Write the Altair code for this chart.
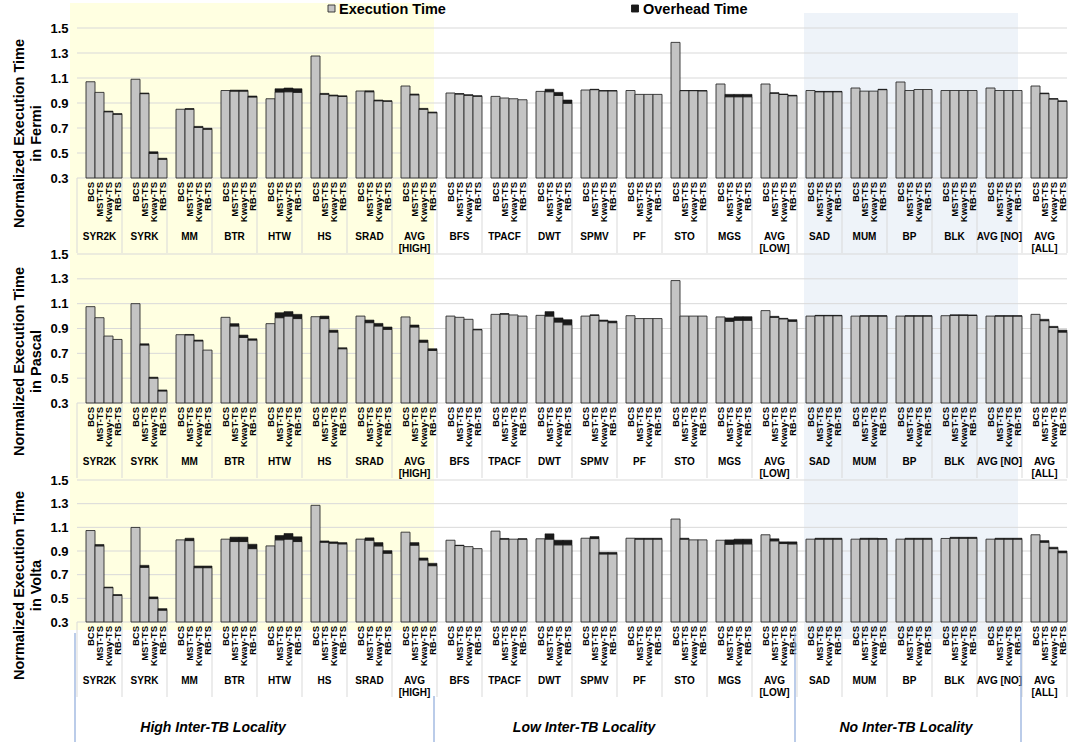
import altair as alt
import pandas as pd

# ---------------------------------------------------------------- data
GROUPS = ["SYR2K", "SYRK", "MM", "BTR", "HTW", "HS", "SRAD", "AVG\n[HIGH]",
          "BFS", "TPACF", "DWT", "SPMV", "PF", "STO", "MGS", "AVG\n[LOW]",
          "SAD", "MUM", "BP", "BLK", "AVG [NO]", "AVG\n[ALL]"]
SCHEMES = ["BCS", "MST-TS", "Kway-TS", "RB-TS"]
TICKS = [0.3, 0.5, 0.7, 0.9, 1.1, 1.3, 1.5]

# execution time (grey part) and overhead time (black part), 4 schemes per group
FERMI_EXEC = [
    1.07, 0.985, 0.83, 0.81,    # SYR2K
    1.09, 0.975, 0.497, 0.45,   # SYRK
    0.85, 0.85, 0.705, 0.69,    # MM
    1.00, 0.995, 0.995, 0.948,  # BTR
    0.934, 0.988, 0.99, 0.985,  # HTW
    1.276, 0.97, 0.958, 0.952,  # HS
    0.996, 0.99, 0.918, 0.914,  # SRAD
    1.036, 0.965, 0.85, 0.822,  # AVG [HIGH]
    0.98, 0.972, 0.962, 0.954,  # BFS
    0.953, 0.94, 0.934, 0.926,  # TPACF
    0.993, 0.99, 0.96, 0.898,   # DWT
    1.004, 1.007, 0.997, 0.997, # SPMV
    1.00, 0.969, 0.969, 0.969,  # PF
    1.385, 0.999, 0.999, 0.997, # STO
    1.052, 0.95, 0.95, 0.95,    # MGS
    1.052, 0.978, 0.968, 0.958, # AVG [LOW]
    1.00, 0.99, 0.99, 0.99,     # SAD
    1.02, 0.995, 0.995, 1.007,  # MUM
    1.068, 1.00, 1.008, 1.008,  # BP
    1.00, 1.00, 1.00, 1.00,     # BLK
    1.02, 1.00, 1.00, 1.00,     # AVG [NO]
    1.036, 0.975, 0.932, 0.914, # AVG [ALL]
]
FERMI_OVH = [
    0, 0, 0.005, 0.005,
    0, 0.005, 0.013, 0.008,
    0, 0.006, 0.008, 0.008,
    0, 0.008, 0.008, 0.008,
    0, 0.026, 0.03, 0.029,
    0, 0.007, 0.006, 0.006,
    0, 0.008, 0.006, 0.004,
    0, 0.007, 0.007, 0.006,
    0, 0.003, 0.004, 0.004,
    0, 0, 0, 0,
    0, 0.02, 0.025, 0.026,
    0, 0.003, 0.003, 0.003,
    0, 0, 0, 0,
    0, 0.001, 0.001, 0.003,
    0, 0.019, 0.019, 0.019,
    0, 0.004, 0.004, 0.004,
    0, 0.003, 0.003, 0.003,
    0, 0, 0, 0.003,
    0, 0, 0, 0,
    0, 0, 0, 0,
    0, 0, 0, 0,
    0, 0.005, 0.003, 0.003,
]

PASCAL_EXEC = [
    1.076, 0.987, 0.839, 0.812,
    1.10, 0.767, 0.50, 0.397,
    0.85, 0.848, 0.80, 0.726,
    0.99, 0.92, 0.828, 0.807,
    0.939, 0.987, 1.00, 0.98,
    0.995, 0.98, 0.871, 0.737,
    1.00, 0.947, 0.92, 0.893,
    0.993, 0.912, 0.79, 0.723,
    1.00, 0.99, 0.974, 0.89,
    1.014, 1.016, 1.009, 1.00,
    1.006, 1.00, 0.952, 0.93,
    1.00, 1.006, 0.96, 0.947,
    1.003, 0.98, 0.98, 0.98,
    1.286, 1.00, 1.00, 1.00,
    0.993, 0.958, 0.966, 0.966,
    1.044, 0.99, 0.978, 0.958,
    1.00, 1.003, 1.003, 1.003,
    1.00, 1.00, 1.00, 1.00,
    1.00, 1.00, 1.00, 1.00,
    1.003, 1.006, 1.006, 1.005,
    1.00, 1.00, 1.00, 1.00,
    1.014, 0.963, 0.909, 0.871,
]
PASCAL_OVH = [
    0, 0, 0, 0,
    0, 0.01, 0.008, 0.008,
    0, 0.004, 0.007, 0,
    0, 0.019, 0.019, 0.01,
    0, 0.04, 0.036, 0.034,
    0, 0.02, 0.016, 0.008,
    0, 0.021, 0.021, 0.019,
    0, 0.016, 0.017, 0.014,
    0, 0, 0, 0.003,
    0, 0.004, 0, 0,
    0, 0.036, 0.033, 0.041,
    0, 0.004, 0.008, 0.013,
    0, 0, 0, 0,
    0, 0, 0, 0,
    0, 0.027, 0.029, 0.029,
    0, 0.008, 0.004, 0.013,
    0, 0.003, 0.003, 0.003,
    0, 0.003, 0.003, 0.003,
    0, 0.003, 0.003, 0.003,
    0, 0.004, 0.004, 0.004,
    0, 0.003, 0.003, 0.003,
    0, 0.011, 0.008, 0.016,
]

VOLTA_EXEC = [
    1.073, 0.943, 0.59, 0.525,
    1.099, 0.762, 0.498, 0.40,
    0.994, 0.988, 0.759, 0.759,
    1.00, 0.98, 0.98, 0.92,
    0.943, 0.994, 1.00, 0.98,
    1.286, 0.974, 0.966, 0.96,
    1.00, 0.991, 0.943, 0.881,
    1.059, 0.949, 0.824, 0.776,
    0.991, 0.946, 0.937, 0.92,
    1.068, 1.00, 1.00, 1.00,
    1.003, 1.00, 0.952, 0.952,
    1.008, 1.005, 0.875, 0.875,
    1.008, 1.00, 1.00, 1.00,
    1.17, 1.00, 0.994, 0.994,
    0.991, 0.957, 0.96, 0.96,
    1.037, 0.986, 0.963, 0.96,
    1.00, 1.00, 1.00, 1.00,
    1.00, 1.00, 1.00, 1.00,
    1.00, 1.00, 1.00, 1.00,
    1.006, 1.008, 1.008, 1.008,
    1.00, 1.00, 1.00, 1.00,
    1.037, 0.974, 0.92, 0.886,
]
VOLTA_OVH = [
    0, 0.012, 0.005, 0.007,
    0, 0.017, 0.014, 0.013,
    0, 0.02, 0.014, 0.014,
    0, 0.037, 0.037, 0.037,
    0, 0.037, 0.048, 0.04,
    0, 0.011, 0.011, 0.011,
    0, 0.02, 0.028, 0.022,
    0, 0.022, 0.017, 0.02,
    0, 0.003, 0, 0,
    0, 0.006, 0, 0.004,
    0, 0.045, 0.039, 0.039,
    0, 0.017, 0.014, 0.014,
    0, 0.008, 0.008, 0.008,
    0, 0.008, 0, 0,
    0, 0.037, 0.04, 0.04,
    0, 0.017, 0.014, 0.017,
    0, 0.008, 0.008, 0.008,
    0, 0.008, 0.008, 0.006,
    0, 0.008, 0.008, 0.008,
    0, 0.008, 0.008, 0.008,
    0, 0.008, 0.008, 0.008,
    0, 0.014, 0.012, 0.014,
]

SECTIONS = ["High Inter-TB Locality", "Low Inter-TB Locality", "No Inter-TB Locality"]

# ---------------------------------------------------------------- layout
FONT = "Liberation Sans"
PLOT_W = 990
LEFT = 77
SLOTS = len(GROUPS) * 5          # gap + 4 bars per group
GRID = "#D9D9D9"
BAR_FILL = "#C4C4C4"
BAR_EDGE = "#2E2E2E"
OVH_FILL = "#1A1A1A"

# (name, exec, overhead, plot top, plot bottom, title centre)
PANELS = [
    ("Fermi", FERMI_EXEC, FERMI_OVH, 28, 178, 133),
    ("Pascal", PASCAL_EXEC, PASCAL_OVH, 254, 403, 361),
    ("Volta", VOLTA_EXEC, VOLTA_OVH, 480, 622, 585),
]

X_SCALE = alt.Scale(domain=[0, SLOTS], nice=False, zero=False)
ONE = pd.DataFrame({"k": [0]})


def bar_frame(exec_vals, ovh_vals):
    rows = []
    for g, grp in enumerate(GROUPS):
        for b, scheme in enumerate(SCHEMES):
            i = g * 4 + b
            x0 = g * 5 + 1 + b
            rows.append(dict(group=grp, scheme=scheme, x0=x0, x1=x0 + 1,
                             xc=x0 + 0.5, base=0.3, exec=exec_vals[i],
                             ovh=ovh_vals[i], total=exec_vals[i] + ovh_vals[i]))
    return pd.DataFrame(rows)


group_df = pd.DataFrame({"g": GROUPS, "xc": [i * 5 + 2.5 for i in range(len(GROUPS))]})
sep_df = pd.DataFrame({"s": list(range(0, SLOTS + 1, 5))})
tick_df = pd.DataFrame({"v": TICKS})

back_layers = [
    # shaded locality regions
    alt.Chart(ONE).mark_rect(color="#FFFFE1").encode(
        x=alt.value(-7), x2=alt.value(357), y=alt.value(3), y2=alt.value(630)),
    alt.Chart(ONE).mark_rect(color="#EEF3F9").encode(
        x=alt.value(727), x2=alt.value(941), y=alt.value(13), y2=alt.value(639)),
]

grid_layers, sep_layers, bar_layers, label_layers = [], [], [], []
for name, ev, ov, top, bottom, title_y in PANELS:
    ysc = alt.Scale(domain=[0.3, 1.5], range=[bottom, top], nice=False, zero=False)
    df = bar_frame(ev, ov)

    grid_layers.append(
        alt.Chart(tick_df).mark_rule(color=GRID, strokeWidth=1).encode(
            x=alt.value(0), x2=alt.value(PLOT_W),
            y=alt.Y("v:Q", scale=ysc, axis=alt.Axis(
                orient="left", values=TICKS, format=".1f", grid=False,
                domain=False, ticks=False, tickSize=0,
                labelFont=FONT, labelFontSize=13, labelFontWeight="bold",
                labelColor="#000000", labelPadding=9,
                title=["Normalized Execution Time", f"in {name}"],
                titleFont=FONT, titleFontSize=14.5, titleFontWeight="bold",
                titleColor="#000000", titleAngle=270, titleX=-54, titleY=title_y,
                titleAlign="center", titleBaseline="alphabetic",
                titleLineHeight=17)))
    )
    sep_layers.append(
        alt.Chart(sep_df).mark_rule(color=GRID, strokeWidth=1).encode(
            x=alt.X("s:Q", scale=X_SCALE, axis=None),
            y=alt.value(bottom), y2=alt.value(bottom + 75))
    )
    bar_layers.append(
        alt.Chart(df).mark_bar(fill=BAR_FILL, stroke=BAR_EDGE, strokeWidth=0.9).encode(
            x=alt.X("x0:Q", scale=X_SCALE, axis=None), x2="x1:Q",
            y=alt.Y("exec:Q", scale=ysc, axis=None), y2="base:Q")
    )
    bar_layers.append(
        alt.Chart(df[df["ovh"] > 0]).mark_bar(fill=OVH_FILL, stroke=OVH_FILL, strokeWidth=0.6).encode(
            x=alt.X("x0:Q", scale=X_SCALE, axis=None), x2="x1:Q",
            y=alt.Y("total:Q", scale=ysc, axis=None), y2="exec:Q")
    )
    label_layers.append(
        alt.Chart(df).mark_text(angle=270, align="right", baseline="middle",
                                font=FONT, fontSize=9.5, fontWeight="bold",
                                color="#000000").encode(
            x=alt.X("xc:Q", scale=X_SCALE, axis=None),
            y=alt.value(bottom + 4), text="scheme:N")
    )
    label_layers.append(
        alt.Chart(group_df).mark_text(align="center", baseline="alphabetic",
                                      lineBreak="\n", lineHeight=11.5,
                                      font=FONT, fontSize=10, fontWeight="bold",
                                      color="#000000").encode(
            x=alt.X("xc:Q", scale=X_SCALE, axis=None),
            y=alt.value(bottom + 62), text="g:N")
    )

# legend
legend_layers = [
    alt.Chart(ONE).mark_square(size=49, fill=BAR_FILL, stroke=BAR_EDGE,
                               strokeWidth=0.9, opacity=1).encode(
        x=alt.value(331.5 - LEFT), y=alt.value(8.5)),
    alt.Chart(ONE).mark_text(align="left", baseline="middle", font=FONT,
                             fontSize=14.5, fontWeight="bold", color="#000000").encode(
        x=alt.value(339 - LEFT), y=alt.value(9.5), text=alt.value("Execution Time")),
    alt.Chart(ONE).mark_square(size=49, fill=OVH_FILL, stroke=OVH_FILL,
                               strokeWidth=0.9, opacity=1).encode(
        x=alt.value(635 - LEFT), y=alt.value(8.5)),
    alt.Chart(ONE).mark_text(align="left", baseline="middle", font=FONT,
                             fontSize=14.5, fontWeight="bold", color="#000000").encode(
        x=alt.value(643 - LEFT), y=alt.value(9.5), text=alt.value("Overhead Time")),
]

# locality sections at the bottom
section_layers = []
for xpix, (y0, y1) in zip([-2, 357, 718, 944], [(633, 742), (696, 742), (633, 742), (633, 742)]):
    section_layers.append(
        alt.Chart(ONE).mark_rule(color="#8EAADB", strokeWidth=1.2).encode(
            x=alt.value(xpix), y=alt.value(y0), y2=alt.value(y1)))
for xpix, text in zip([136, 507, 829], SECTIONS):
    section_layers.append(
        alt.Chart(ONE).mark_text(align="center", baseline="middle", font=FONT,
                                 fontSize=14, fontWeight="bold", fontStyle="italic",
                                 color="#000000").encode(
            x=alt.value(xpix), y=alt.value(728), text=alt.value(text)))

chart = alt.layer(
    *back_layers, *grid_layers, *sep_layers, *bar_layers, *label_layers,
    *legend_layers, *section_layers
).resolve_scale(y="independent").properties(
    width=PLOT_W, height=742,
    autosize=alt.AutoSizeParams(type="none"),
    padding={"left": LEFT, "right": 3, "top": 0, "bottom": 0},
    background="#FFFFFF",
).configure_view(strokeWidth=0)

chart.save("out.html", embed_options={"renderer": "svg", "actions": False})
